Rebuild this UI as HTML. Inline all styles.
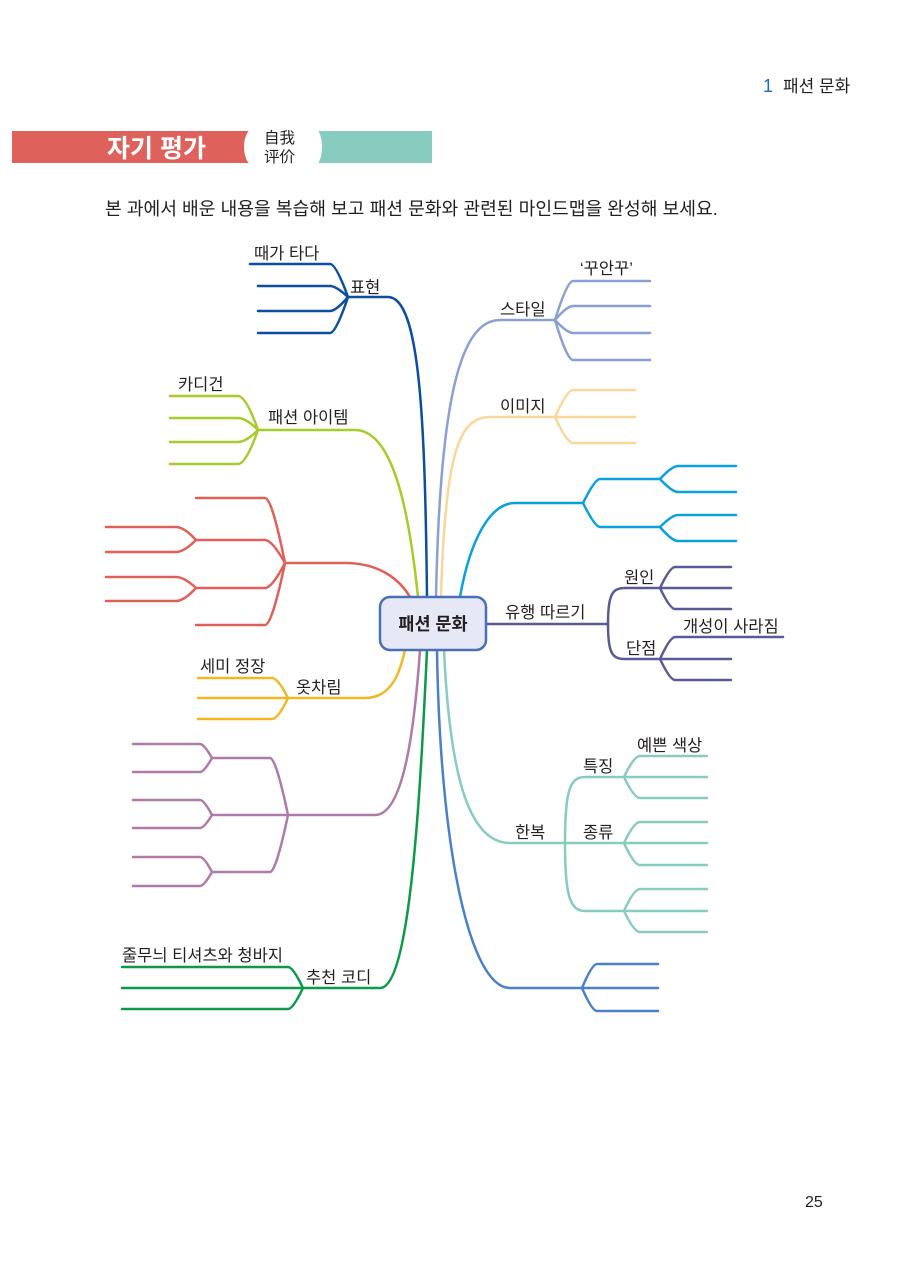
<!DOCTYPE html>
<html><head><meta charset="utf-8"><style>
body{margin:0;background:#fff;}
svg text{font-family:"Liberation Sans","Noto Sans CJK KR",sans-serif;fill:#231f20;}
</style></head><body>
<svg width="900" height="1260" viewBox="0 0 900 1260" xmlns="http://www.w3.org/2000/svg">
<rect width="900" height="1260" fill="#fff"/>
<text x="763" y="92" font-size="18" fill="#1a6fb5" style="fill:#1a6fb5">1</text>
<text x="783" y="92" font-size="17">패션 문화</text>
<text x="805" y="1207" font-size="16">25</text>
<!-- banner -->
<rect x="12" y="131" width="238" height="32" fill="#df615b"/>
<ellipse cx="254" cy="147" rx="10" ry="19" fill="#fff"/>
<rect x="318" y="131" width="114" height="32" fill="#88cbbf"/>
<ellipse cx="314" cy="147" rx="8" ry="19" fill="#fff"/>
<text x="107" y="157" font-size="25" font-weight="bold" style="fill:#fff">자기 평가</text>
<text x="264" y="143" font-size="15.5">自我</text>
<text x="264" y="162" font-size="15.5">评价</text>
<text x="105" y="215" font-size="18.2">본 과에서 배운 내용을 복습해 보고 패션 문화와 관련된 마인드맵을 완성해 보세요.</text>

<g fill="none" stroke-width="2.5" stroke-linecap="round">
<g stroke="#0b4ea2">
<path d="M348 297 H388 C420 297 425 420 427 597"/>
<path d="M348 297 Q336 264 330 264 H250"/>
<path d="M348 297 Q336 286 330 286 H258"/>
<path d="M348 297 Q336 311 330 311 H258"/>
<path d="M348 297 Q336 333 330 333 H258"/>
</g>
<g stroke="#a6cc2a">
<path d="M258 430 H355 C395 430 410 520 418 597"/>
<path d="M258 430 Q246 396 238 396 H170"/>
<path d="M258 430 Q246 418 238 418 H170"/>
<path d="M258 430 Q246 442 238 442 H170"/>
<path d="M258 430 Q246 464 238 464 H170"/>
</g>
<g stroke="#e06058">
<path d="M285 563 H345 C380 563 400 580 410 597"/>
<path d="M285 563 Q272 498 265 498 H196"/>
<path d="M285 563 Q272 540 265 540 H196"/>
<path d="M285 563 Q272 588 265 588 H196"/>
<path d="M285 563 Q272 625 265 625 H196"/>
<path d="M196 540 Q184 527 176 527 H106"/>
<path d="M196 540 Q184 552 176 552 H106"/>
<path d="M196 588 Q184 577 176 577 H106"/>
<path d="M196 588 Q184 601 176 601 H106"/>
</g>
<g stroke="#f2b824">
<path d="M288 698 H365 C392 698 400 672 405 650"/>
<path d="M288 698 Q278 678 272 678 H198"/>
<path d="M288 698 H198"/>
<path d="M288 698 Q278 719 272 719 H198"/>
</g>
<g stroke="#b07aa8">
<path d="M288 815 H375 C405 815 415 720 420 650"/>
<path d="M288 815 Q276 758 270 758 H212"/>
<path d="M288 815 H212"/>
<path d="M288 815 Q276 872 270 872 H212"/>
<path d="M212 758 Q204 744 200 744 H133"/>
<path d="M212 758 Q204 772 200 772 H133"/>
<path d="M212 815 Q204 800 200 800 H133"/>
<path d="M212 815 Q204 828 200 828 H133"/>
<path d="M212 872 Q204 857 200 857 H133"/>
<path d="M212 872 Q204 886 200 886 H133"/>
</g>
<g stroke="#0a9a48">
<path d="M303 988 H380 C410 988 420 800 427 650"/>
<path d="M303 988 Q293 967 288 967 H122"/>
<path d="M303 988 H122"/>
<path d="M303 988 Q293 1009 288 1009 H122"/>
</g>
<g stroke="#8a9fd4">
<path d="M436 597 C440 400 460 320 500 320 H555"/>
<path d="M555 320 Q567 281 573 281 H650"/>
<path d="M555 320 Q567 306 573 306 H650"/>
<path d="M555 320 Q567 333 573 333 H650"/>
<path d="M555 320 Q567 360 573 360 H650"/>
</g>
<g stroke="#f9d79a">
<path d="M441 597 C445 450 460 417 490 417 H555"/>
<path d="M555 417 Q567 390 573 390 H635"/>
<path d="M555 417 H635"/>
<path d="M555 417 Q567 443 573 443 H635"/>
</g>
<g stroke="#0aa0e0">
<path d="M460 597 C470 540 490 503 515 503 H583"/>
<path d="M583 503 Q595 479 600 479 H660"/>
<path d="M583 503 Q595 527 600 527 H660"/>
<path d="M660 479 Q672 466 678 466 H736"/>
<path d="M660 479 Q672 492 678 492 H736"/>
<path d="M660 527 Q672 515 678 515 H736"/>
<path d="M660 527 Q672 541 678 541 H736"/>
</g>
<g stroke="#5a5a94">
<path d="M486 624 H608"/>
<path d="M608 624 C608 595 612 588 625 588 H660"/>
<path d="M608 624 C608 653 612 659 625 659 H660"/>
<path d="M660 588 Q670 567 675 567 H731"/>
<path d="M660 588 H731"/>
<path d="M660 588 Q670 609 675 609 H731"/>
<path d="M660 659 Q670 637 675 637 H783"/>
<path d="M660 659 H731"/>
<path d="M660 659 Q670 680 675 680 H731"/>
</g>
<g stroke="#88cbbf">
<path d="M444 650 C450 780 470 843 510 843 H624"/>
<path d="M565 843 C565 790 570 777 585 777 H624"/>
<path d="M565 843 C565 896 570 911 585 911 H624"/>
<path d="M624 777 Q634 756 640 756 H707"/>
<path d="M624 777 H707"/>
<path d="M624 777 Q634 798 640 798 H707"/>
<path d="M624 843 Q634 822 640 822 H707"/>
<path d="M624 843 H707"/>
<path d="M624 843 Q634 865 640 865 H707"/>
<path d="M624 911 Q634 889 640 889 H707"/>
<path d="M624 911 H707"/>
<path d="M624 911 Q634 932 640 932 H707"/>
</g>
<g stroke="#4a80c8">
<path d="M437 650 C440 850 470 988 510 988 H582"/>
<path d="M582 988 Q592 964 597 964 H658"/>
<path d="M582 988 H658"/>
<path d="M582 988 Q592 1011 597 1011 H658"/>
</g>
</g>
<rect x="380" y="597" width="106" height="53" rx="10" fill="#e6e8f5" stroke="#4a6fb5" stroke-width="2.5"/>
<text x="433" y="630" font-size="17.5" font-weight="bold" text-anchor="middle">패션 문화</text>
<g font-size="16.5">
<text x="254" y="259">때가 타다</text>
<text x="350" y="293">표현</text>
<text x="178" y="390">카디건</text>
<text x="268" y="423">패션 아이템</text>
<text x="200" y="672">세미 정장</text>
<text x="296" y="693">옷차림</text>
<text x="122" y="961">줄무늬 티셔츠와 청바지</text>
<text x="306" y="983">추천 코디</text>
<text x="580" y="274">‘꾸안꾸’</text>
<text x="500" y="315">스타일</text>
<text x="500" y="412">이미지</text>
<text x="505" y="618">유행 따르기</text>
<text x="624" y="583">원인</text>
<text x="683" y="632">개성이 사라짐</text>
<text x="626" y="654">단점</text>
<text x="637" y="751">예쁜 색상</text>
<text x="583" y="772">특징</text>
<text x="515" y="838">한복</text>
<text x="583" y="838">종류</text>
</g>
</svg>
</body></html>
